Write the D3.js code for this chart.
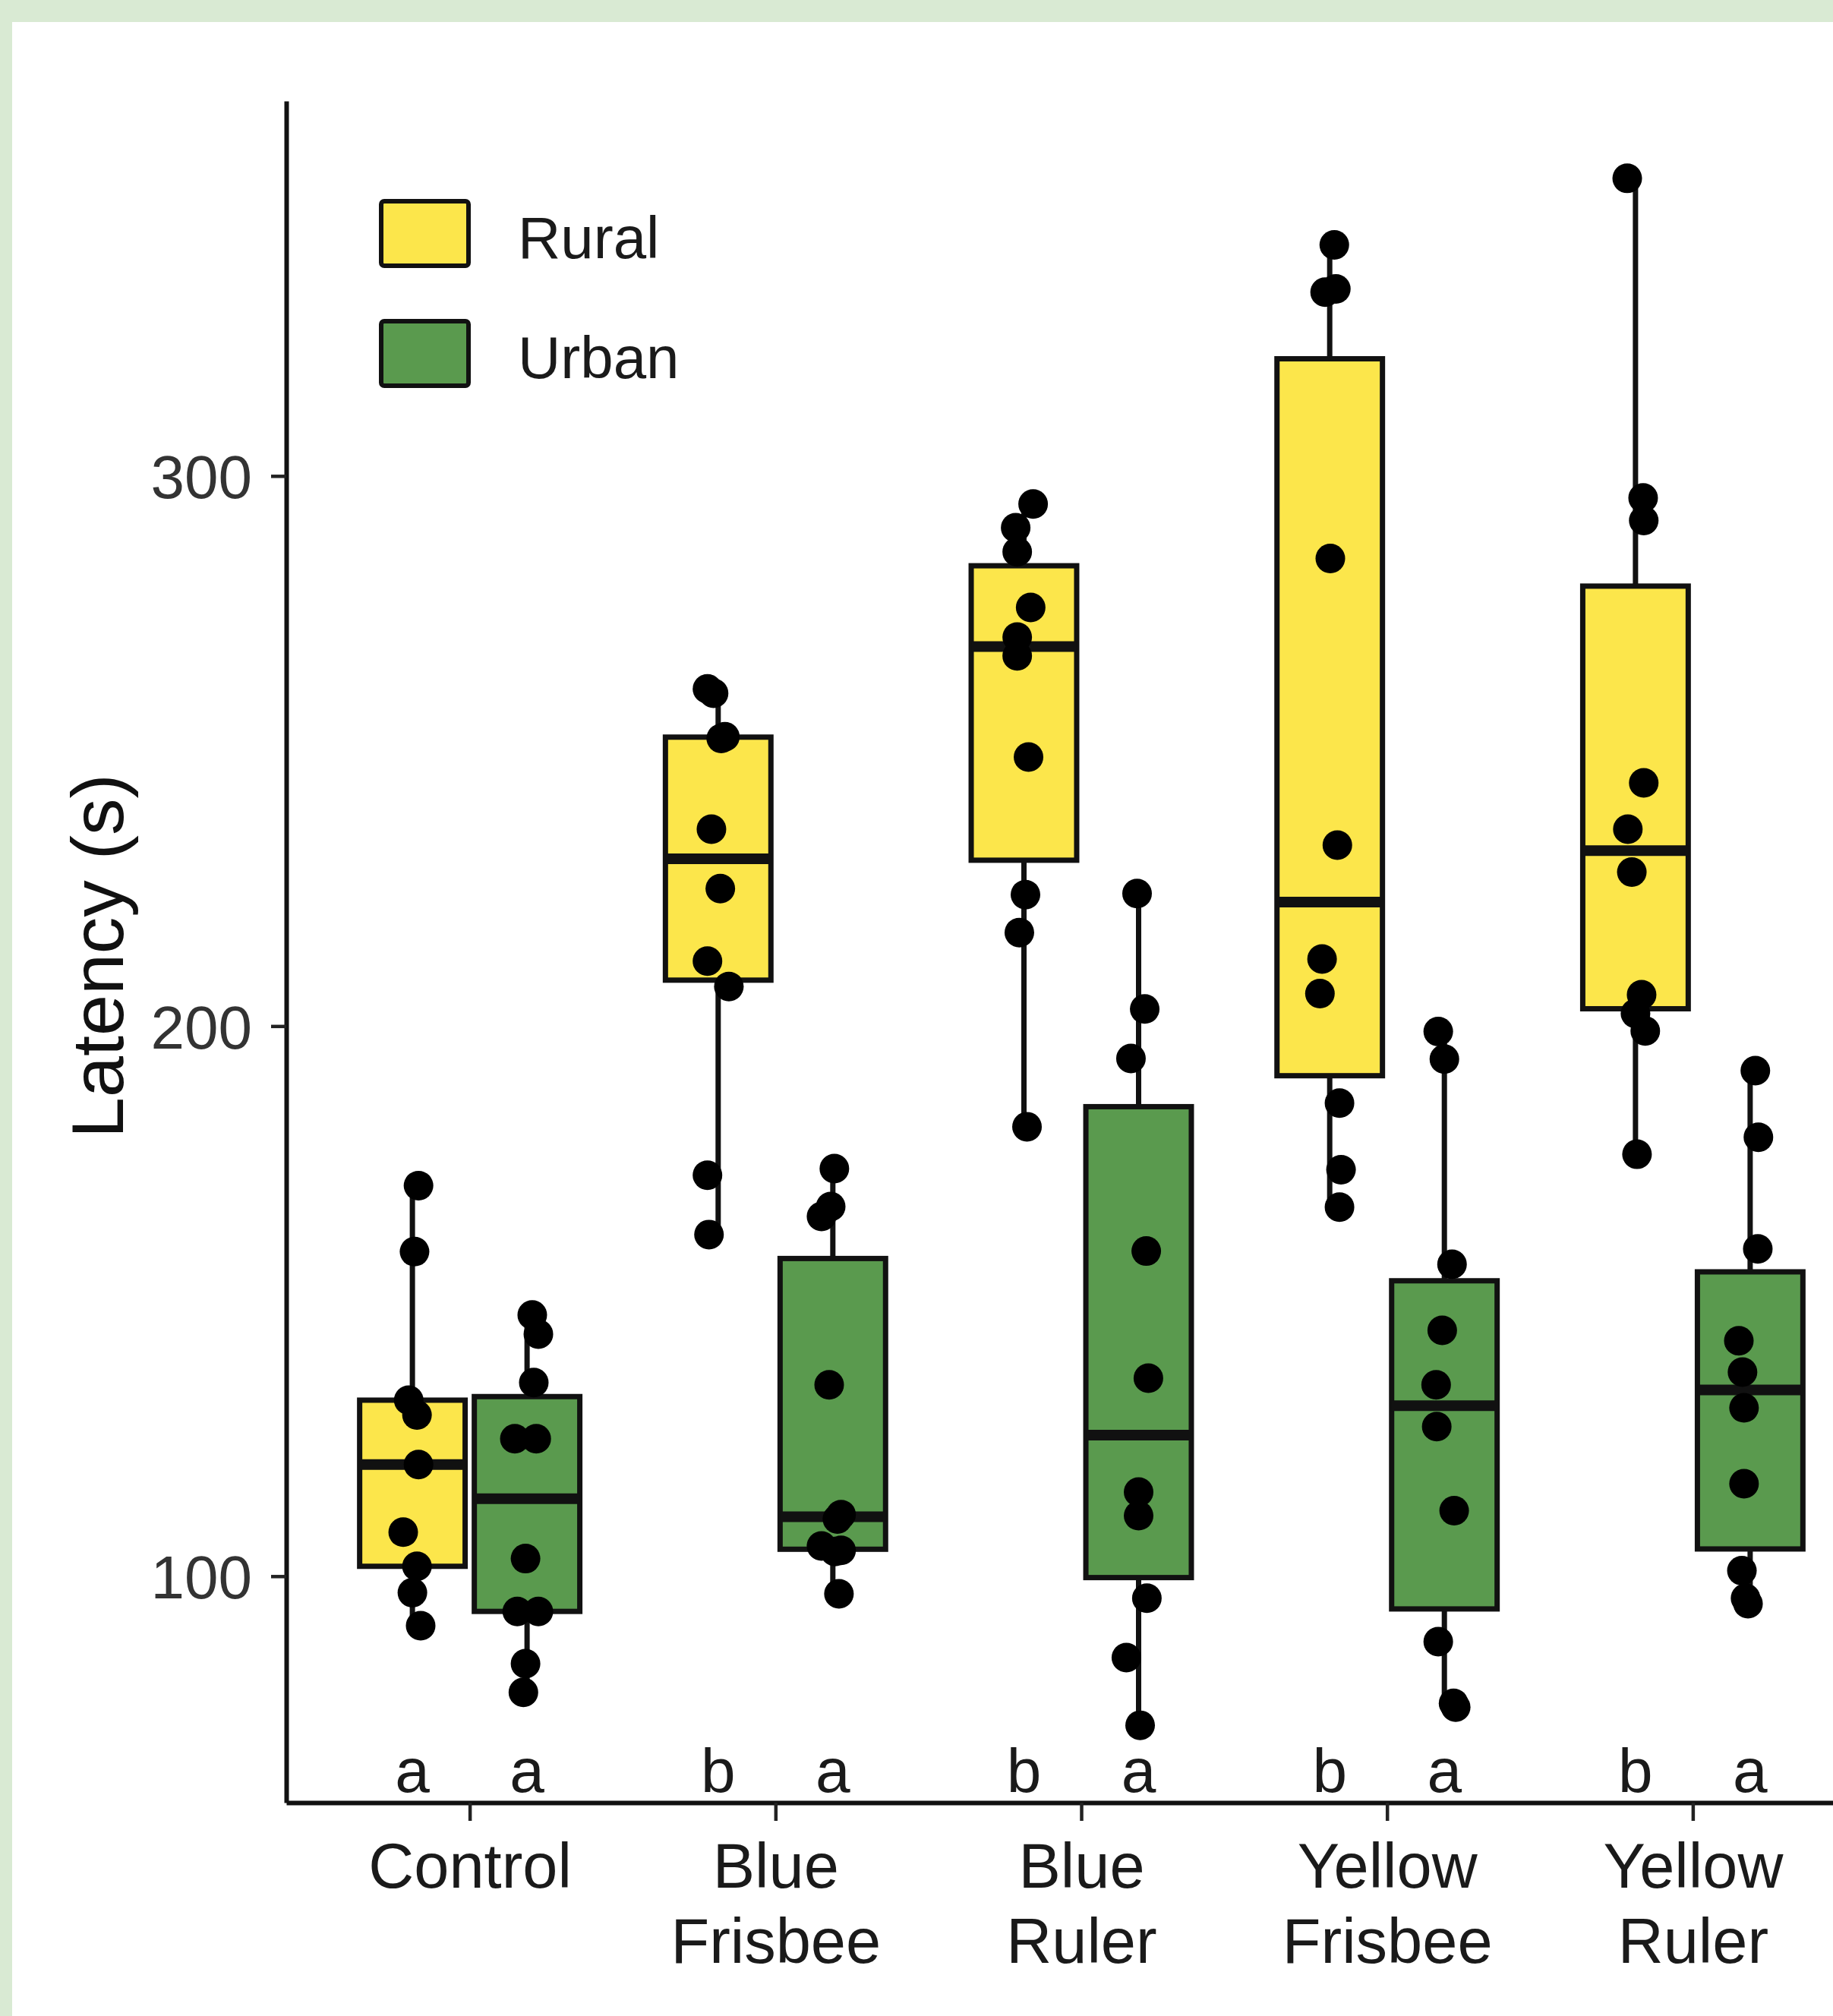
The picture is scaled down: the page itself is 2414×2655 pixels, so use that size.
<!DOCTYPE html>
<html><head><meta charset="utf-8">
<script src="https://cdn.jsdelivr.net/npm/d3@7"></script>
<style>html,body{margin:0;padding:0;background:#fff;} svg{display:block;}</style>
</head><body>
<svg id="chart" width="2414" height="2655"></svg>
<script>
// ---------------- data ----------------
const categories = ["Control", "Blue Frisbee", "Blue Ruler", "Yellow Frisbee", "Yellow Ruler"];
const categoryLines = [["Control"], ["Blue", "Frisbee"], ["Blue", "Ruler"], ["Yellow", "Frisbee"], ["Yellow", "Ruler"]];
const seriesNames = ["Rural", "Urban"];
const seriesColors = ["#FCE64B", "#5A9A4E"];

const ruralValues = [
  [171, 159, 132, 129.3, 120.3, 108, 101.8, 97, 91],
  [261.3, 260.5, 252.6, 252.3, 235.8, 225, 211.8, 207.2, 172.9, 162.1],
  [294.9, 290.6, 286.2, 276.1, 270.7, 267.3, 248.9, 223.9, 217.0, 181.7],
  [342, 334, 333.4, 285, 232.9, 212.2, 205.9, 186, 173.9, 167.1],
  [354.1, 296, 291.9, 244.2, 235.8, 228, 205.7, 202.3, 199.1, 176.7]
];
const urbanValues = [
  [147.5, 144, 135.2, 125, 125, 103.2, 93.6, 93.6, 84.1, 78.9],
  [174.1, 167.2, 165.4, 134.8, 111.2, 110.4, 105.5, 104.7, 104.5, 96.8],
  [224.1, 203.1, 194.1, 159.1, 136.0, 115.3, 111.0, 96.0, 85.2, 72.9],
  [199, 194, 156.7, 144.7, 134.8, 127.2, 111.9, 88.1, 76.9, 76.2],
  [191.9, 179.8, 159.5, 142.8, 137.1, 130.6, 116.8, 101, 96, 95]
];
// horizontal jitter of each point, as a fraction of the category spacing
const ruralJitter = [
  [0.020, 0.007, -0.012, 0.015, 0.020, -0.030, 0.015, 0.000, 0.027],
  [-0.035, -0.015, 0.022, 0.010, -0.022, 0.007, -0.035, 0.035, -0.035, -0.030],
  [0.030, -0.027, -0.022, 0.022, -0.022, -0.022, 0.015, 0.005, -0.015, 0.010],
  [0.015, 0.020, -0.015, 0.002, 0.025, -0.025, -0.032, 0.032, 0.037, 0.032],
  [-0.027, 0.025, 0.027, 0.027, -0.025, -0.012, 0.020, 0.000, 0.032, 0.005]
];
const urbanJitter = [
  [0.017, 0.037, 0.022, -0.040, 0.030, -0.005, -0.032, 0.037, -0.005, -0.012],
  [0.005, -0.007, -0.037, -0.012, 0.027, 0.015, -0.037, 0.027, 0.007, 0.020],
  [-0.005, 0.020, -0.025, 0.025, 0.032, 0.000, 0.000, 0.027, -0.040, 0.005],
  [-0.020, 0.000, 0.025, -0.007, -0.027, -0.025, 0.032, -0.020, 0.030, 0.037],
  [0.017, 0.027, 0.025, -0.037, -0.025, -0.020, -0.020, -0.027, -0.015, -0.007]
];
const ruralLetters = ["a", "b", "b", "b", "b"];
const urbanLetters = ["a", "a", "a", "a", "a"];
const letterValue = 60.8;
const yTicks = [100, 200, 300];
const yTitle = "Latency (s)";

// ---------------- drawing ----------------
const FONT = "'Liberation Sans', Arial, Helvetica, sans-serif";
const svg = d3.select("#chart");
svg.append("rect").attr("width", 2414).attr("height", 2655).attr("fill", "#D9EAD3");
svg.append("rect").attr("x", 16).attr("y", 29).attr("width", 2414 - 16).attr("height", 2655 - 29).attr("fill", "#ffffff");

const plot = {left: 377, top: 133, bottom: 2374, right: 2471};

const allValues = ruralValues.flat().concat(urbanValues.flat());
const [vmin, vmax] = d3.extent(allValues);
const pad = (vmax - vmin) * 0.05;
const y = d3.scaleLinear().domain([vmin - pad, vmax + pad]).range([plot.bottom, plot.top]);
const x = d3.scalePoint().domain(categories).range([plot.left, plot.right]).padding(0.6);
const step = x.step();
const dodge = 0.1875 * step;
const boxW = 0.345 * step;

const seriesData = [
  {name: seriesNames[0], color: seriesColors[0], values: ruralValues, jitter: ruralJitter, letters: ruralLetters, side: -1},
  {name: seriesNames[1], color: seriesColors[1], values: urbanValues, jitter: urbanJitter, letters: urbanLetters, side: 1}
];

const gBoxes = svg.append("g");
const gDots = svg.append("g");

seriesData.forEach(s => {
  categories.forEach((cat, ci) => {
    const vals = s.values[ci].slice().sort(d3.ascending);
    const q1 = d3.quantile(vals, 0.25), med = d3.quantile(vals, 0.5), q3 = d3.quantile(vals, 0.75);
    const iqr = q3 - q1;
    const lo = d3.min(vals.filter(v => v >= q1 - 1.5 * iqr));
    const hi = d3.max(vals.filter(v => v <= q3 + 1.5 * iqr));
    const cx = x(cat) + s.side * dodge;
    const g = gBoxes.append("g");
    g.append("line").attr("x1", cx).attr("x2", cx).attr("y1", y(hi)).attr("y2", y(q3))
      .attr("stroke", "#111").attr("stroke-width", 7);
    g.append("line").attr("x1", cx).attr("x2", cx).attr("y1", y(q1)).attr("y2", y(lo))
      .attr("stroke", "#111").attr("stroke-width", 7);
    g.append("rect").attr("x", cx - boxW / 2).attr("y", y(q3)).attr("width", boxW).attr("height", y(q1) - y(q3))
      .attr("fill", s.color).attr("stroke", "#111").attr("stroke-width", 7);
    g.append("line").attr("x1", cx - boxW / 2).attr("x2", cx + boxW / 2).attr("y1", y(med)).attr("y2", y(med))
      .attr("stroke", "#111").attr("stroke-width", 14);

    gDots.selectAll(null).data(s.values[ci].map((v, k) => ({v, j: s.jitter[ci][k]}))).enter()
      .append("circle")
      .attr("cx", d => cx + d.j * step)
      .attr("cy", d => y(d.v))
      .attr("r", 19.5)
      .attr("fill", "#000");

    svg.append("text").attr("x", cx).attr("y", y(letterValue))
      .attr("text-anchor", "middle").attr("font-family", FONT).attr("font-size", 82).attr("fill", "#1a1a1a")
      .text(s.letters[ci]);
  });
});

// y axis
const gy = svg.append("g").attr("transform", `translate(${plot.left},0)`)
  .call(d3.axisLeft(y).tickValues(yTicks).tickSize(20).tickSizeOuter(0).tickPadding(25));
gy.select(".domain").attr("stroke", "#111").attr("stroke-width", 6);
gy.selectAll(".tick line").attr("stroke", "#222").attr("stroke-width", 4.5);
gy.selectAll(".tick text").attr("font-family", FONT).attr("font-size", 80).attr("fill", "#333").attr("dy", "0.36em");

// x axis
const gx = svg.append("g").attr("transform", `translate(0,${plot.bottom})`)
  .call(d3.axisBottom(x).tickSize(24).tickSizeOuter(0));
gx.select(".domain").attr("stroke", "#111").attr("stroke-width", 6);
gx.selectAll(".tick line").attr("stroke", "#222").attr("stroke-width", 4.5);
gx.selectAll(".tick text").each(function(d, i) {
  const t = d3.select(this);
  t.text(null).attr("dy", null).attr("y", null);
  categoryLines[i].forEach((ln, j) => {
    t.append("tspan").attr("x", 0).attr("y", 112 + j * 99).text(ln);
  });
}).attr("font-family", FONT).attr("font-size", 83).attr("fill", "#1a1a1a");

// y title
svg.append("text").attr("transform", "translate(162,1259) rotate(-90)")
  .attr("text-anchor", "middle").attr("font-family", FONT).attr("font-size", 97).attr("fill", "#111")
  .text(yTitle);

// legend
const leg = svg.append("g");
seriesData.forEach((s, i) => {
  const ly = 265 + i * 158;
  leg.append("rect").attr("x", 502).attr("y", ly).attr("width", 115).attr("height", 85).attr("rx", 4)
    .attr("fill", s.color).attr("stroke", "#111").attr("stroke-width", 6);
  leg.append("text").attr("x", 682).attr("y", ly + 75).attr("font-family", FONT).attr("font-size", 78)
    .attr("fill", "#1a1a1a").text(s.name);
});
</script>
</body></html>
